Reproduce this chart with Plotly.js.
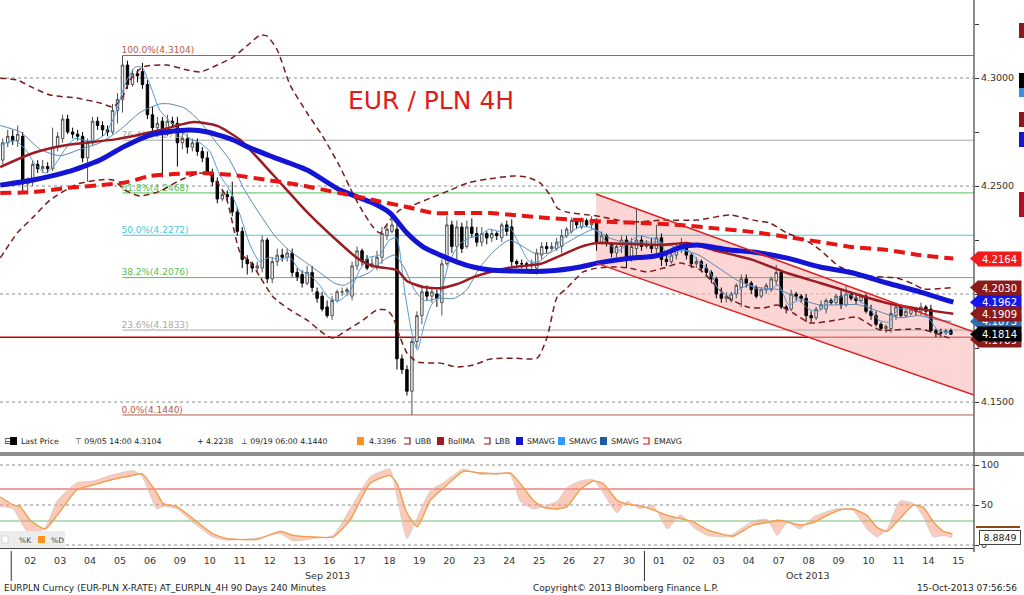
<!DOCTYPE html>
<html><head><meta charset="utf-8">
<script src="https://cdn.plot.ly/plotly-3.0.1.min.js"></script>
<style>html,body{margin:0;padding:0;background:#fff}#chart{width:1024px;height:595px}</style>
</head><body><div id="chart"></div>
<script>
// ---------------- DATA ----------------
const dayLabels = ['30','02','03','04','05','06','09','10','11','12','13','16','17','18','19','20','23','24','25','26','27','30','01','02','03','04','07','08','09','10','11','14','15'];
const barsPerDay = 6;
const firstBar = 3;   // first visible 4H bar index (30 Aug)

const opens = [
 4.262,4.270,4.273,
 4.271,4.273,4.251,4.252,4.260,4.258,
 4.259,4.258,4.268,4.272,4.281,4.275,
 4.274,4.273,4.263,4.270,4.280,4.278,
 4.276,4.275,4.285,4.290,4.306,4.297,
 4.302,4.303,4.297,4.283,4.277,4.280,
 4.274,4.280,4.279,4.270,4.272,4.268,
 4.270,4.266,4.263,4.256,4.252,4.244,
 4.246,4.245,4.238,4.229,4.216,4.214,
 4.212,4.212,4.225,4.207,4.215,4.218,
 4.217,4.219,4.210,4.209,4.205,4.210,
 4.201,4.199,4.194,4.190,4.197,4.201,
 4.201,4.199,4.213,4.220,4.216,4.213,
 4.213,4.217,4.227,4.229,4.230,4.170,
 4.165,4.155,4.178,4.190,4.201,4.199,
 4.200,4.196,4.214,4.232,4.222,4.231,
 4.222,4.231,4.228,4.224,4.228,4.226,
 4.228,4.226,4.232,4.231,4.215,4.214,
 4.214,4.213,4.212,4.218,4.222,4.221,
 4.221,4.222,4.227,4.229,4.234,4.231,
 4.234,4.232,4.233,4.224,4.227,4.223,
 4.219,4.222,4.225,4.216,4.221,4.225,
 4.222,4.223,4.221,4.226,4.216,4.215,
 4.218,4.221,4.223,4.218,4.214,4.215,
 4.212,4.210,4.207,4.200,4.198,4.197,
 4.200,4.203,4.207,4.205,4.203,4.199,
 4.202,4.202,4.206,4.210,4.194,4.193,
 4.200,4.199,4.198,4.190,4.189,4.193,
 4.193,4.197,4.196,4.199,4.195,4.200,
 4.198,4.197,4.199,4.192,4.190,4.186,
 4.184,4.184,4.190,4.194,4.190,4.191,
 4.193,4.192,4.194,4.193,4.183,4.182,
 4.182,4.183];
const highs = [
 4.272,4.276,4.276,
 4.278,4.275,4.254,4.262,4.262,4.262,
 4.261,4.277,4.275,4.283,4.283,4.277,
 4.276,4.275,4.272,4.282,4.282,4.280,
 4.278,4.288,4.293,4.3104,4.308,4.304,
 4.304,4.307,4.299,4.287,4.282,4.282,
 4.283,4.282,4.282,4.276,4.274,4.272,
 4.272,4.268,4.266,4.258,4.254,4.248,
 4.248,4.252,4.240,4.231,4.218,4.215,
 4.215,4.227,4.226,4.217,4.221,4.221,
 4.221,4.221,4.212,4.211,4.213,4.213,
 4.203,4.201,4.197,4.199,4.202,4.203,
 4.203,4.215,4.222,4.221,4.218,4.217,
 4.220,4.231,4.232,4.2345,4.233,4.172,
 4.167,4.180,4.192,4.204,4.204,4.203,
 4.202,4.216,4.236,4.234,4.234,4.233,
 4.234,4.235,4.231,4.231,4.229,4.230,
 4.229,4.233,4.234,4.2345,4.216,4.216,
 4.215,4.216,4.221,4.224,4.224,4.224,
 4.226,4.230,4.231,4.2355,4.235,4.2355,
 4.235,4.236,4.235,4.229,4.228,4.224,
 4.223,4.227,4.227,4.226,4.240,4.227,
 4.225,4.226,4.232,4.228,4.218,4.220,
 4.223,4.226,4.224,4.219,4.217,4.216,
 4.214,4.211,4.208,4.203,4.201,4.201,
 4.205,4.209,4.209,4.206,4.204,4.203,
 4.205,4.208,4.2135,4.211,4.195,4.202,
 4.201,4.200,4.200,4.192,4.194,4.197,
 4.198,4.198,4.200,4.202,4.204,4.201,
 4.200,4.200,4.200,4.195,4.192,4.187,
 4.186,4.196,4.196,4.195,4.194,4.194,
 4.194,4.196,4.195,4.195,4.184,4.184,
 4.184,4.184];
const lows = [
 4.260,4.268,4.269,
 4.268,4.247,4.248,4.250,4.256,4.256,
 4.256,4.257,4.266,4.270,4.274,4.272,
 4.271,4.261,4.252,4.269,4.276,4.273,
 4.273,4.274,4.279,4.284,4.295,4.296,
 4.298,4.295,4.281,4.275,4.274,4.254,
 4.273,4.277,4.259,4.267,4.265,4.266,
 4.264,4.261,4.255,4.250,4.242,4.243,
 4.243,4.236,4.227,4.212,4.209,4.210,
 4.210,4.210,4.205,4.205,4.213,4.215,
 4.215,4.208,4.206,4.203,4.204,4.201,
 4.196,4.192,4.189,4.188,4.196,4.199,
 4.199,4.197,4.211,4.213,4.211,4.212,
 4.211,4.214,4.225,4.228,4.165,4.163,
 4.153,4.1440,4.175,4.186,4.197,4.196,
 4.194,4.190,4.213,4.219,4.216,4.219,
 4.221,4.226,4.222,4.222,4.223,4.224,
 4.225,4.224,4.227,4.213,4.212,4.212,
 4.211,4.211,4.209,4.216,4.219,4.220,
 4.220,4.219,4.226,4.228,4.230,4.230,
 4.231,4.230,4.220,4.223,4.222,4.217,
 4.217,4.219,4.212,4.215,4.216,4.220,
 4.221,4.219,4.219,4.213,4.213,4.214,
 4.216,4.219,4.216,4.212,4.212,4.210,
 4.208,4.205,4.198,4.196,4.196,4.196,
 4.198,4.194,4.203,4.200,4.198,4.198,
 4.200,4.201,4.204,4.193,4.191,4.192,
 4.197,4.196,4.187,4.187,4.188,4.193,
 4.191,4.195,4.195,4.193,4.194,4.197,
 4.195,4.196,4.191,4.188,4.185,4.183,
 4.182,4.182,4.188,4.189,4.189,4.190,
 4.190,4.190,4.190,4.182,4.180,4.180,
 4.181,4.181];
const closes = [
 4.270,4.273,4.271,
 4.274,4.251,4.252,4.260,4.258,4.259,
 4.258,4.268,4.273,4.281,4.275,4.274,
 4.273,4.263,4.270,4.280,4.278,4.276,
 4.275,4.285,4.290,4.306,4.297,4.302,
 4.301,4.297,4.283,4.277,4.279,4.274,
 4.280,4.279,4.270,4.272,4.268,4.270,
 4.266,4.263,4.256,4.252,4.244,4.246,
 4.245,4.238,4.229,4.216,4.214,4.212,
 4.213,4.225,4.207,4.215,4.218,4.217,
 4.219,4.210,4.208,4.205,4.210,4.203,
 4.198,4.193,4.190,4.197,4.201,4.201,
 4.202,4.213,4.220,4.215,4.212,4.214,
 4.217,4.228,4.230,4.232,4.170,4.165,
 4.155,4.178,4.190,4.201,4.199,4.201,
 4.198,4.214,4.232,4.222,4.231,4.221,
 4.231,4.228,4.224,4.228,4.226,4.228,
 4.227,4.232,4.229,4.215,4.214,4.214,
 4.213,4.214,4.219,4.222,4.221,4.222,
 4.224,4.227,4.230,4.234,4.232,4.234,
 4.232,4.233,4.224,4.227,4.224,4.219,
 4.222,4.225,4.216,4.222,4.225,4.222,
 4.223,4.221,4.226,4.216,4.215,4.218,
 4.221,4.223,4.218,4.214,4.215,4.212,
 4.210,4.207,4.200,4.198,4.199,4.200,
 4.204,4.207,4.205,4.202,4.199,4.202,
 4.204,4.207,4.210,4.194,4.193,4.200,
 4.199,4.198,4.190,4.189,4.193,4.195,
 4.197,4.196,4.199,4.195,4.200,4.198,
 4.197,4.199,4.192,4.190,4.186,4.184,
 4.185,4.191,4.194,4.190,4.192,4.193,
 4.192,4.194,4.192,4.183,4.182,4.182,
 4.183,4.1814];

// indicator lines (bar position, price)
const smaThickX = [2.5,9.1,15.9,22.5,27.1,32.5,35.9,40.6,44.0,49.2,52.6,57.2,64.0,70.6,77.2,80.6,84.0,87.3,90.7,94.1,97.3,100.7,105.3,112.1,118.7,122.1,128.7,132.1,135.4,138.8,142.2,145.4,148.8,153.4,160.2,166.8,173.4,180.2,186.9,193.5];
const smaThickY = [4.2504,4.2528,4.2565,4.2620,4.2680,4.2736,4.2750,4.2759,4.2750,4.2713,4.2676,4.2634,4.2574,4.2481,4.2421,4.2375,4.2282,4.2217,4.2180,4.2148,4.2125,4.2111,4.2106,4.2106,4.2125,4.2143,4.2166,4.2171,4.2185,4.2217,4.2227,4.2217,4.2204,4.2194,4.2166,4.2125,4.2097,4.2051,4.2009,4.1962];
const emaX = [2.5,9.1,15.9,22.5,27.9,32.5,37.2,42.6,49.2,56.0,62.6,70.6,77.2,84.0,89.3,94.1,100.7,105.3,112.1,118.7,125.3,132.1,138.8,145.4,153.4,160.2,166.8,173.4,180.2,186.9,193.5];
const emaY = [4.2467,4.2472,4.2491,4.2504,4.2518,4.2546,4.2555,4.2560,4.2551,4.2528,4.2504,4.2467,4.2435,4.2403,4.2375,4.2375,4.2375,4.2366,4.2352,4.2342,4.2333,4.2328,4.2319,4.2305,4.2287,4.2264,4.2241,4.2217,4.2204,4.2180,4.2164];
const bollX = [2.5,9.1,15.9,25.9,34.6,41.2,46.0,50.6,57.2,64.0,69.2,74.0,77.2,82.0,84.0,87.3,90.7,94.1,97.3,100.7,105.3,110.7,114.1,118.7,122.1,128.7,135.4,140.2,145.4,153.4,160.2,166.8,173.4,180.2,186.9,193.5];
const bollY = [4.2588,4.2653,4.2690,4.2717,4.2759,4.2796,4.2778,4.2713,4.2551,4.2379,4.2264,4.2167,4.2129,4.2111,4.2060,4.2032,4.2027,4.2046,4.2078,4.2102,4.2125,4.2139,4.2171,4.2217,4.2236,4.2231,4.2227,4.2236,4.2204,4.2157,4.2097,4.2051,4.2004,4.1958,4.1930,4.1909];
const ubbX = [2.5,5.9,9.1,12.5,17.9,22.5,25.1,26.9,28.5,31.1,35.9,40.0,42.6,46.0,49.2,52.6,54.6,56.0,58.0,60.6,64.0,67.2,70.6,72.6,74.6,77.2,78.6,80.6,82.6,85.3,88.7,92.7,96.1,100.1,105.3,108.1,110.7,112.7,114.1,116.1,122.1,128.7,135.4,142.2,148.8,153.4,156.8,160.2,164.2,166.8,170.8,176.8,182.2,185.5,187.5,193.5];
const ubbY = [4.2999,4.2991,4.2954,4.2921,4.2907,4.2884,4.2866,4.2907,4.2991,4.3051,4.3060,4.3037,4.3028,4.3060,4.3097,4.3162,4.3199,4.3194,4.3130,4.2967,4.2838,4.2727,4.2588,4.2491,4.2403,4.2310,4.2282,4.2342,4.2389,4.2412,4.2444,4.2481,4.2514,4.2532,4.2546,4.2541,4.2514,4.2458,4.2398,4.2379,4.2361,4.2333,4.2342,4.2342,4.2366,4.2342,4.2328,4.2282,4.2245,4.2204,4.2125,4.2083,4.2074,4.2046,4.2023,4.2030];
const lbbX = [2.5,5.9,9.1,12.5,17.9,22.5,25.1,27.5,30.5,34.6,38.6,42.6,44.6,47.6,50.6,52.6,54.6,57.2,60.6,64.0,67.2,69.2,72.0,75.2,78.0,80.0,81.2,82.6,84.0,86.1,90.7,94.1,97.3,100.7,105.3,110.1,112.1,114.1,116.1,119.3,122.1,125.3,128.7,132.1,135.4,138.8,142.8,145.8,148.2,152.2,155.4,158.2,161.4,164.8,170.2,174.2,176.2,178.8,186.9,193.5];
const lbbY = [4.2167,4.2282,4.2356,4.2435,4.2509,4.2528,4.2528,4.2481,4.2454,4.2477,4.2528,4.2560,4.2551,4.2458,4.2190,4.2148,4.2078,4.1986,4.1926,4.1879,4.1819,4.1796,4.1833,4.1879,4.1926,4.1926,4.1893,4.1801,4.1727,4.1685,4.1680,4.1662,4.1671,4.1699,4.1703,4.1703,4.1801,4.1986,4.2028,4.2102,4.2120,4.2125,4.2120,4.2102,4.2120,4.2143,4.2111,4.2041,4.1986,4.1940,4.1935,4.1949,4.1912,4.1866,4.1880,4.1893,4.1866,4.1833,4.1838,4.1789];
const smaFastX = [2.5,5.5,7.5,9.5,11.5,13.5,15.5,17.5,19.5,21.5,23.5,25.5,27.5,29.5,30.9,32.5,34.5,36.5,38.5,40.5,42.5,44.5,46.5,48.5,50.5,52.5,54.5,56.5,58.5,60.5,62.5,64.5,66.5,68.5,70.5,72.5,74.5,76.5,78.5,80.5,81.9,83.5,84.9,86.1,87.5,88.9,90.5,92.5,94.5,96.5,98.5,100.5,102.5,104.5,106.5,108.5,110.5,112.5,114.5,116.5,118.5,120.5,122.1,124.1,126.5,128.5,130.5,132.5,134.5,136.5,138.5,140.5,142.5,144.5,146.5,148.5,150.5,152.5,154.5,156.5,158.5,160.5,162.5,164.5,166.5,168.5,170.5,172.5,174.5,176.5,178.5,180.5,182.5,184.5,186.5,188.5,190.5,193.1];
const smaFastY = [4.269,4.271,4.267,4.260,4.256,4.260,4.267,4.272,4.271,4.271,4.274,4.283,4.297,4.305,4.305,4.297,4.285,4.280,4.276,4.272,4.270,4.266,4.255,4.248,4.237,4.223,4.215,4.217,4.216,4.217,4.211,4.209,4.204,4.198,4.197,4.201,4.211,4.217,4.218,4.225,4.226,4.202,4.183,4.174,4.186,4.195,4.199,4.215,4.223,4.226,4.227,4.230,4.229,4.231,4.223,4.215,4.215,4.219,4.224,4.228,4.231,4.231,4.229,4.224,4.220,4.224,4.227,4.226,4.225,4.217,4.220,4.220,4.215,4.211,4.202,4.199,4.202,4.204,4.202,4.202,4.204,4.195,4.197,4.193,4.192,4.196,4.198,4.200,4.197,4.194,4.188,4.187,4.193,4.193,4.192,4.189,4.183,4.182];
const smaMidX = [2.5,6.5,10.5,14.5,18.5,22.5,26.5,30.5,34.5,36.5,39.5,42.5,45.5,48.5,51.5,54.5,57.5,60.5,63.5,66.5,69.5,71.5,73.5,76.5,79.5,81.5,83.5,85.5,87.5,90.5,93.5,96,98.5,101.5,104.5,106.5,109.5,112.5,115.5,118.5,121.5,124.5,127.5,130.5,134.5,138.5,142.5,146.5,150.5,154.5,158.5,162.5,166.5,170.5,174.5,178.5,182.5,186.5,190.5,193.1];
const smaMidY = [4.278,4.275,4.267,4.264,4.267,4.270,4.276,4.284,4.288,4.288,4.286,4.280,4.271,4.262,4.248,4.237,4.227,4.220,4.215,4.210,4.205,4.204,4.207,4.210,4.216,4.218,4.212,4.202,4.197,4.198,4.198,4.202,4.212,4.220,4.225,4.223,4.219,4.219,4.223,4.227,4.230,4.226,4.224,4.224,4.224,4.221,4.218,4.212,4.206,4.203,4.202,4.198,4.195,4.195,4.195,4.192,4.189,4.190,4.188,4.1873];

// stochastics
const stochX = [2.5,5.1,6.5,8.5,11.5,13.9,17.9,21.1,25.1,29.1,30.9,33.9,35.1,37.9,41.1,45.1,47.9,54.0,58.6,61.2,65.2,69.2,72.6,76.6,80.6,82.0,84.0,86.1,88.7,91.3,95.3,98.7,102.1,104.7,106.7,109.3,111.3,114.1,116.1,118.7,121.3,123.3,126.1,128.1,130.7,133.3,136.2,138.8,141.4,144.2,148.2,149.4,153.4,156.2,158.2,160.2,162.8,165.4,168.2,170.8,173.4,176.2,178.2,180.2,182.8,185.5,187.5,189.5,191.5,193.3];
const stochD = [60,50,48,31,20,37,69,75,82,87,89,65,52,48,33,14,8,7,17,12,10,10,31,77,87,77,40,23,56,71,92,90,89,90,77,56,47,45,48,69,80,77,56,51,49,44,37,33,29,19,12,11,25,28,31,29,25,28,37,44,45,37,22,17,33,50,47,29,17,14];
const stochK = [48,45,30,12,22,55,78,80,88,93,86,45,48,45,28,10,6,9,14,5,8,12,45,85,95,60,8,35,68,78,95,88,90,88,55,45,48,55,72,80,82,65,40,55,45,50,20,38,22,12,10,14,30,32,12,28,20,35,42,46,43,20,10,20,55,52,35,10,12,9];

// Fibonacci retracement
const fibLevels = [4.3104, 4.2712, 4.2468, 4.2272, 4.2076, 4.1833, 4.1440];
const fibNames  = ['100.0%','76.4%','61.8%','50.0%','38.2%','23.6%','0.0%'];
const fibColors = ['#b85a48','#a8a8a8','#55c055','#48c8d8','#55c055','#a8a8a8','#b85a48'];
const fibStartBar = 27;
const supportLevel = 4.1800;
const channelStartBar = 121.9;
const channelUpper = [4.2463, 4.1824];
const channelLower = [4.2143, 4.1532];
const gridPrices = [4.15, 4.20, 4.25, 4.30];
const lastValues = [
  {v:4.2164, c:'#f21a1a'}, {v:4.1789, c:'#8b1a1a'}, {v:4.1873, c:'#2e6eb0'},
  {v:4.1962, c:'#1515ee'}, {v:4.2030, c:'#8b1a1a'}, {v:4.1909, c:'#8b1a1a'},
  {v:4.1814, c:'#000000'}];
const stochLast = 8.8849;

// ---------------- LAYOUT HELPERS ----------------
const X_MIN = 2.45, X_MAX = 197.64;
const Y_MIN = 4.13935, Y_MAX = 4.33611;
const PW = 974, PH = 548;
const px = v => v / PW;
const py = v => (PH - v) / PH;
const F = 'DejaVu Sans';

const barX = opens.map((_, i) => firstBar + i);
const tickVals = dayLabels.map((_, k) => k * barsPerDay + 2.5);

const traces = [];
traces.push({type:'scatter', mode:'text', x: fibLevels.map(() => fibStartBar - 0.2), y: fibLevels,
  text: fibLevels.map((l, i) => fibNames[i] + '(' + l.toFixed(4) + ')'),
  textposition:'top right', textfont:{family:F, size:9, color:fibColors}, hoverinfo:'skip'});
traces.push({type:'candlestick', x: barX, open: opens, high: highs, low: lows, close: closes,
  increasing:{line:{color:'#505050', width:1}, fillcolor:'#f2f2f2'},
  decreasing:{line:{color:'#000000', width:1}, fillcolor:'#000000'},
  whiskerwidth:0, hoverinfo:'skip'});
const ln = (x, y, color, width, dash, yaxis) => ({type:'scatter', mode:'lines', x, y, yaxis: yaxis || 'y',
  line:{color, width, dash: dash || 'solid', shape:'spline', smoothing:0.6}, hoverinfo:'skip'});
traces.push(ln(ubbX, ubbY, '#7a1c1c', 1.5, '6px,4px'));
traces.push(ln(lbbX, lbbY, '#7a1c1c', 1.5, '6px,4px'));
traces.push(ln(smaMidX, smaMidY, '#5a86b4', 1));
traces.push(ln(smaFastX, smaFastY, '#4f9ad8', 1));
traces.push(ln(bollX, bollY, '#9b1c22', 2.5));
traces.push(ln(smaThickX, smaThickY, '#1414d4', 5));
traces.push(ln(emaX, emaY, '#e81414', 4, '11px,6px'));
// stochastics
const sl = {shape:'spline', smoothing:0.5};
traces.push({type:'scatter', mode:'lines', x: stochX, y: stochD, yaxis:'y2', line:Object.assign({color:'#f0a860', width:1}, sl), hoverinfo:'skip'});
traces.push({type:'scatter', mode:'lines', x: stochX, y: stochK, yaxis:'y2', fill:'tonexty',
  fillcolor:'rgba(248,150,120,0.5)', line:Object.assign({color:'rgba(205,205,205,0.9)', width:0.8}, sl), hoverinfo:'skip'});
traces.push({type:'scatter', mode:'lines', x: stochX, y: stochD, yaxis:'y2', line:Object.assign({color:'#f0a050', width:1.3}, sl), hoverinfo:'skip'});

// ---------------- SHAPES ----------------
const shapes = [];
gridPrices.forEach(p => shapes.push({type:'line', xref:'paper', yref:'y', x0:0, x1:1, y0:p, y1:p, layer:'below', line:{color:'#8c8c8c', width:1, dash:'dot'}}));
shapes.push({type:'path', xref:'x', yref:'y', layer:'below', line:{width:0}, fillcolor:'rgba(250,185,185,0.6)',
  path:`M ${channelStartBar},${channelUpper[0]} L ${X_MAX},${channelUpper[1]} L ${X_MAX},${channelLower[1]} L ${channelStartBar},${channelLower[0]} Z`});
fibLevels.forEach((l, i) => shapes.push({type:'line', xref:'x', yref:'y', x0:fibStartBar, x1:X_MAX, y0:l, y1:l, layer:'below', line:{color:fibColors[i], width:1}}));
shapes.push({type:'line', xref:'paper', yref:'y', x0:0, x1:1, y0:supportLevel, y1:supportLevel, layer:'below', line:{color:'#c00000', width:1.5}});
shapes.push({type:'line', xref:'x', yref:'y', x0:channelStartBar, x1:X_MAX, y0:channelUpper[0], y1:channelUpper[1], line:{color:'#e02020', width:1.5}});
shapes.push({type:'line', xref:'x', yref:'y', x0:channelStartBar, x1:X_MAX, y0:channelLower[0], y1:channelLower[1], line:{color:'#e02020', width:1.5}});
[0,50,100].forEach(v => shapes.push({type:'line', xref:'paper', yref:'y2', x0:0, x1:1, y0:v, y1:v, layer:'below', line:{color:'#8c8c8c', width:1, dash:'dot'}}));
shapes.push({type:'line', xref:'paper', yref:'y2', x0:0, x1:1, y0:70, y1:70, layer:'below', line:{color:'#e04040', width:1.2}});
shapes.push({type:'line', xref:'paper', yref:'y2', x0:0, x1:1, y0:30, y1:30, layer:'below', line:{color:'#70c070', width:1.2}});
shapes.push({type:'rect', xref:'paper', yref:'paper', x0:0, x1:px(1024), y0:py(456), y1:py(452), line:{width:0}, fillcolor:'#8e8e8e'});
shapes.push({type:'line', xref:'paper', yref:'paper', x0:1, x1:1, y0:py(552), y1:py(0), line:{color:'#666', width:1.5}});
[4.7, 131.6].forEach(b => shapes.push({type:'line', xref:'x', yref:'paper', x0:b, x1:b, y0:py(551), y1:py(581), line:{color:'#333', width:1}}));
[[23,38,'#8b1a1a'],[73,88,'#000'],[88,97,'#3a8ee6'],[112,127,'#8b1a1a'],[132,147,'#1515d0'],[192,217,'#b01020']]
  .forEach(r => shapes.push({type:'rect', xref:'paper', yref:'paper', x0:px(1019), x1:px(1024), y0:py(r[1]), y1:py(r[0]), line:{width:0}, fillcolor:r[2]}));
const dy = 7 / 2160;
lastValues.forEach(o => shapes.push({type:'path', xref:'paper', yref:'y', line:{width:0}, fillcolor:o.c,
  path:`M ${px(970)},${o.v} L ${px(978)},${o.v+dy} L ${px(978)},${o.v-dy} Z`}));

// ---------------- ANNOTATIONS ----------------
const ann = [];
const txt = (x, y, t, opts) => Object.assign({xref:'paper', yref:'paper', x:px(x), y:py(y), text:t, showarrow:false,
  xanchor:'left', yanchor:'middle', font:{family:F, size:9, color:'#222'}}, opts || {});

const legendItems = [
  {icon:'sq', c:'#000', ix:10, t:'Last Price', tx:19},
  {t:'⊤ 09/05 14:00 4.3104', tx:73},
  {t:'+ 4.2238', tx:195},
  {t:'⊥ 09/19 06:00 4.1440', tx:239},
  {icon:'sq', c:'#f7931e', ix:357, t:'4.3396', tx:367},
  {icon:'br', c:'#8b1a1a', ix:404, t:'UBB', tx:413},
  {icon:'sq', c:'#9b1c22', ix:437, t:'BollMA', tx:446},
  {icon:'br', c:'#8b1a1a', ix:484, t:'LBB', tx:493},
  {icon:'sq', c:'#1414d4', ix:516, t:'SMAVG', tx:525},
  {icon:'sq', c:'#3399ff', ix:558, t:'SMAVG', tx:567},
  {icon:'sq', c:'#1f5a9e', ix:600, t:'SMAVG', tx:609},
  {icon:'br', c:'#e01414', ix:643, t:'EMAVG', tx:652}];
const LY = 441;
ann.push(txt(2, LY, '⊟', {font:{family:F, size:9, color:'#333'}}));
legendItems.forEach(it => {
  if (it.icon === 'sq') shapes.push({type:'rect', xref:'paper', yref:'paper', x0:px(it.ix), x1:px(it.ix+7), y0:py(LY+4), y1:py(LY-4), line:{width:0}, fillcolor:it.c});
  if (it.icon === 'br') shapes.push({type:'path', xref:'paper', yref:'paper', line:{color:it.c, width:1.2},
    path:`M ${px(it.ix)},${py(LY-3)} L ${px(it.ix+6)},${py(LY-3)} L ${px(it.ix+6)},${py(LY+3)} L ${px(it.ix)},${py(LY+3)}`});
  ann.push(txt(it.tx, LY, it.t, {font:{family:F, size:7.8, color:'#222'}}));
});
shapes.push({type:'rect', xref:'paper', yref:'paper', x0:0, x1:px(65), y0:py(548), y1:py(531), line:{width:0}, fillcolor:'#ececec'});
shapes.push({type:'rect', xref:'paper', yref:'paper', x0:px(2), x1:px(8), y0:py(543), y1:py(536), line:{color:'#bbb', width:0.5}, fillcolor:'#ffffff'});
shapes.push({type:'rect', xref:'paper', yref:'paper', x0:px(38), x1:px(45), y0:py(543), y1:py(536), line:{width:0}, fillcolor:'#f7931e'});
ann.push(txt(17, 540, '%K', {font:{family:F, size:7.5, color:'#444'}}));
ann.push(txt(49, 540, '%D', {font:{family:F, size:7.5, color:'#444'}}));

ann.push(txt(327, 575, 'Sep 2013', {xanchor:'center', font:{family:F, size:9.5, color:'#333'}}));
ann.push(txt(808, 575, 'Oct 2013', {xanchor:'center', font:{family:F, size:9.5, color:'#333'}}));
ann.push(txt(2, 588, 'EURPLN Curncy (EUR-PLN X-RATE) AT_EURPLN_4H 90 Days 240 Minutes'));
ann.push(txt(531, 588, 'Copyright© 2013 Bloomberg Finance L.P.'));
ann.push(txt(1019, 588, '15-Oct-2013 07:56:56', {xanchor:'right'}));

lastValues.forEach(o => ann.push({xref:'paper', yref:'y', x:px(977), y:o.v, xanchor:'left', yanchor:'middle',
  text:o.v.toFixed(4), showarrow:false, bgcolor:o.c, width:41, height:12, borderpad:1,
  font:{family:F, size:10, color:'#ffffff'}}));
shapes.push({type:'line', xref:'paper', yref:'y2', x0:px(976), x1:px(1020), y0:22.5, y1:22.5, line:{color:'#8a4a1a', width:2}});
ann.push({xref:'paper', yref:'y2', x:px(979), y:10, xanchor:'left', yanchor:'middle', text:stochLast.toFixed(4), showarrow:false,
  bgcolor:'#ffffff', bordercolor:'#444', borderwidth:1, width:38, height:11, borderpad:1, font:{family:F, size:9.5, color:'#222'}});

// ---------------- LAYOUT ----------------
const layout = {
  width:1024, height:595, margin:{l:0, r:50, t:0, b:47},
  paper_bgcolor:'#ffffff', plot_bgcolor:'#ffffff', showlegend:false, hovermode:false,
  title:{text:'EUR / PLN 4H', x:348/1024, y:1-100/595, xref:'container', yref:'container', xanchor:'left', yanchor:'middle',
    font:{family:F, size:25, color:'#e3191c'}},
  xaxis:{range:[X_MIN, X_MAX], anchor:'y2', tickvals:tickVals, ticktext:dayLabels, ticks:'outside', ticklen:4,
    tickcolor:'rgba(0,0,0,0)', showgrid:false, zeroline:false, showline:true, linecolor:'#444', linewidth:1,
    tickfont:{family:F, size:9.5, color:'#333'}, rangeslider:{visible:false}, fixedrange:true},
  yaxis:{domain:[py(425), 1], range:[Y_MIN, Y_MAX], side:'right', anchor:'x', showgrid:false, zeroline:false,
    tickvals:[4.15,4.175,4.2,4.225,4.25,4.275,4.3,4.325], ticktext:['4.1500','','4.2000','','4.2500','','4.3000',''],
    ticks:'outside', ticklen:4, tickcolor:'#333', tickfont:{family:F, size:9.5, color:'#333'}, fixedrange:true},
  yaxis2:{domain:[0, py(458)], range:[-3.75, 108.75], side:'right', anchor:'x', showgrid:false, zeroline:false,
    tickvals:[0,50,100], ticktext:['0','50','100'], ticks:'outside', ticklen:4, tickcolor:'#333',
    tickfont:{family:F, size:9.5, color:'#333'}, fixedrange:true},
  shapes, annotations: ann
};
Plotly.newPlot('chart', traces, layout, {displayModeBar:false, staticPlot:true});
</script>
</body></html>
